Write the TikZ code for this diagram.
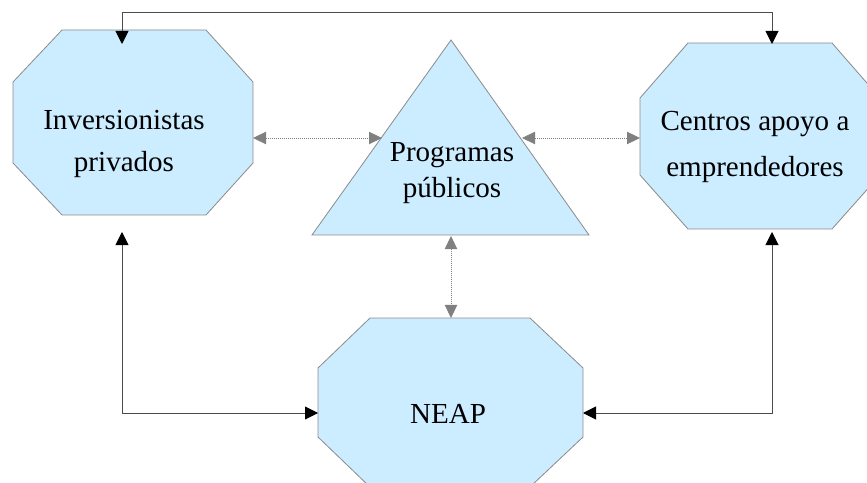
\documentclass[tikz,border=0pt]{standalone}
\usepackage{fontspec}
\setmainfont{Liberation Serif}
\usetikzlibrary{arrows.meta}
\definecolor{boxblue}{RGB}{204,236,255}
\definecolor{edgegray}{RGB}{140,140,140}
\definecolor{dotgray}{RGB}{128,128,128}
\begin{document}
\begin{tikzpicture}[x=0.03cm,y=-0.03cm,
    box/.style={fill=boxblue,draw=edgegray,line width=0.7pt},
    txt/.style={align=center,inner sep=0pt},
    link/.style={<->,draw=black!70,line width=0.8pt,>={Triangle[length=0.39cm,width=0.39cm,color=black]}},
    dotlink/.style={<->,draw=dotgray,densely dotted,line width=0.7pt,>={Triangle[length=0.39cm,width=0.37cm,color=dotgray]}}]
            \useasboundingbox (0,0) rectangle (867,483);
            \clip (0,0) rectangle (867,483);
            \draw [box] (62,30)--(206,30)--(253,82)--(253,163)--(206,215)--(62,215)--(13,163)--(13,82)--cycle;
            \draw [box] (688,43)--(832,43)--(880,98)--(880,175)--(832,229)--(688,229)--(640,175)--(640,98)--cycle;
            \draw [box] (370,318)--(530,318)--(583,368)--(583,437)--(530,487)--(370,487)--(318,437)--(318,368)--cycle;
            \draw [box] (451,40)--(589,235)--(312,235)--cycle;
            \node [txt,font=\fontsize{24.8}{36}\selectfont] (inv) at (124,144) {Inversionistas\\privados};
            \node [txt,font=\fontsize{24.8}{31}\selectfont] (prog) at (452,173) {Programas\\públicos};
            \node [txt,font=\fontsize{24.8}{40}\selectfont] (cen) at (755,147) {Centros apoyo a\\emprendedores};
            \node [txt,font=\fontsize{24.8}{30}\selectfont] (neap) at (448,414) {NEAP};
            \coordinate (inv-t) at (122,44);
            \coordinate (inv-b) at (122,232);
            \coordinate (inv-r) at (253,138);
            \coordinate (cen-t) at (772,44);
            \coordinate (cen-b) at (772,232);
            \coordinate (cen-l) at (640,138);
            \coordinate (prog-l) at (382,138);
            \coordinate (prog-r) at (522,138);
            \coordinate (prog-b) at (451,236);
            \coordinate (neap-t) at (451,318);
            \coordinate (neap-l) at (318,413);
            \coordinate (neap-r) at (583,413);
            \draw [link] (inv-t)--++(0,-32)-|(cen-t);
            \draw [link] (inv-b)|-(neap-l);
            \draw [link] (cen-b)|-(neap-r);
            \draw [dotlink] (inv-r)--(prog-l);
            \draw [dotlink] (prog-r)--(cen-l);
            \draw [dotlink] (prog-b)--(neap-t);
        \end{tikzpicture}
\end{document}
